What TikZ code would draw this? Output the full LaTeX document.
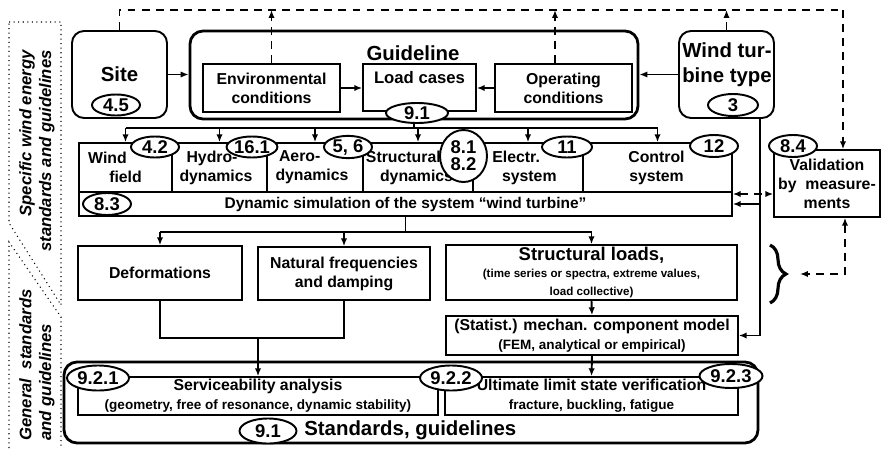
\documentclass[tikz,border=0pt]{standalone}
\usepackage{fontspec}
\setmainfont{Liberation Sans}
\usetikzlibrary{shapes.geometric,arrows.meta,calc,decorations.pathreplacing}
\newcommand{\bsize}[2]{\fontsize{#1}{#2}\selectfont\bfseries}

\begin{document}
\begin{tikzpicture}[x=0.2mm,y=-0.2mm,>={Latex[length=4.5pt,width=3.6pt]},
	box/.style={draw,line width=0.9pt,inner sep=0pt,align=center,font=\bsize{9}{10.8}},
	rbox/.style={draw,line width=1.1pt,rounded corners=2.4mm},
	bigbox/.style={draw,line width=1.6pt,rounded corners=2.6mm},
	txt/.style={inner sep=0pt,align=center,font=\bsize{9}{10.8}},
	big/.style={inner sep=0pt,align=center,font=\bsize{11.6}{14}},
	num/.style={ellipse,draw,fill=white,line width=1.1pt,inner sep=0pt,align=center,
		minimum width=9.6mm,minimum height=4.2mm,font=\bsize{10.5}{9.6}},
	wire/.style={line width=1.1pt},
	arr/.style={wire,->},
	fb/.style={wire,dash pattern=on 4.5pt off 3.5pt},
	side/.style={draw,dotted,line width=0.6pt},
	sidetxt/.style={rotate=90,inner sep=0pt,font=\fontsize{9.5}{11.3}\selectfont\bfseries\itshape}]
	\path[use as bounding box,fill=white] (0,0) rectangle (883,448);

	\draw[side] (9,22) -- (61,22) -- (61,305) -- (9,223) -- cycle;
	\draw[side] (9,448) -- (9,242) -- (61,317) -- (61,448);
	\node[sidetxt,align=right] (spec) at (37,151) {Specific wind energy\\standards and guidelines};
	\node[sidetxt,anchor=west,align=left] (gen) at (37,441) {General~~standards\\and guidelines};

	\node[rbox,big,minimum width=19mm,minimum height=17.4mm] (site) at (119.5,74.5) {Site};
	\node[bigbox,minimum width=89.6mm,minimum height=17.6mm] (guide) at (414,75) {};
	\node[big] (guidetxt) at (413,53) {Guideline};
	\node[box,minimum width=27.4mm,minimum height=9.6mm] (env) at (271.5,88) {Environmental\\conditions};
	\node[box,minimum width=22.6mm,minimum height=9.4mm] (load) at (419.5,87.5) {};
	\node[txt,font=\bsize{9.5}{11}] (loadtxt) at (419.5,78) {Load cases};
	\node[box,minimum width=27.4mm,minimum height=9.6mm] (op) at (563.5,88) {Operating\\conditions};
	\node[rbox,minimum width=19mm,minimum height=17.4mm] (turb) at (726.5,74.5) {};
	\node[big] (turbtxt) at (727,64.5) {Wind tur-\\bine type};

	\foreach \n/\x/\w in {wind/125.5/18.6,hydro/219.5/19,aero/315/19.2,struc/418/22,elec/528/22,ctrl/657.5/29.8}
		\node[box,minimum width=\w mm,minimum height=9.8mm] (\n) at (\x,167.5) {};
	\node[txt,align=left] (windtxt) at (115,167.5) {Wind\\\hspace*{12pt}field};
	\node[txt,align=left] (hydrotxt) at (216,167.5) {\hspace*{4pt}Hydro-\\dynamics};
	\node[txt,align=left] (aerotxt) at (312,167.5) {\hspace*{2pt}Aero-\\dynamics};
	\node[txt,align=left] (structxt) at (409.5,167.5) {Structural\\\hspace*{8pt}dynamics};
	\node[txt,align=left] (electxt) at (524.5,167.5) {Electr.\\\hspace*{5.5pt}system};
	\node[txt] (ctrltxt) at (656.5,167.5) {Control\\system};
	\node[box,font=\bsize{8.8}{10},minimum width=130.6mm,minimum height=4.8mm] (dyn) at (405.5,204) {Dynamic simulation of the system ``wind turbine''};
	\node[box,minimum width=21.2mm,minimum height=13.4mm] (val) at (827,183.5) {Validation\\by~~measure-\\ments};

	\node[box,minimum width=32.8mm,minimum height=10.8mm] (deform) at (160,273) {Deformations};
	\node[box,minimum width=34.4mm,minimum height=10.6mm] (natural) at (344,273.5) {Natural frequencies\\and damping};
	\node[box,font=\bsize{10.5}{10},minimum width=58.2mm,minimum height=11mm] (loads) at (591.5,272.5)
		{Structural loads,\\\fontsize{6.6}{9.5}\selectfont(time series or spectra, extreme values,\\\fontsize{6.6}{9}\selectfont load collective)};
	\node[box,minimum width=58.4mm,minimum height=7.8mm] (comp) at (592,335.5) {(Statist.) mechan. component model\\\fontsize{7.7}{10}\selectfont(FEM, analytical or empirical)};

	\node[bigbox,minimum width=138.8mm,minimum height=16.2mm] (std) at (411,402.5) {};
	\node[box,minimum width=72mm,minimum height=7.6mm] (service) at (258,396) {Serviceability analysis\\\fontsize{7.7}{9.5}\selectfont(geometry, free of resonance, dynamic stability)};
	\node[box,minimum width=58.6mm,minimum height=7.6mm] (ultimate) at (591.5,396) {Ultimate limit state verification\\\fontsize{7.7}{9.5}\selectfont fracture, buckling, fatigue};
	\node[big,anchor=west] (stdtxt) at (304,430) {Standards, guidelines};

	\coordinate (fbcorner) at (843,10);
	\draw[fb] (site.north) |- (fbcorner);
	\draw[fb,->] (fbcorner) -- (fbcorner |- val.north);
	\draw[fb,->] (env.north) -- (env.north |- fbcorner);
	\draw[fb,->] ([xshift=-1.7mm]op.north) -- ([xshift=-1.7mm]op.north |- fbcorner);
	\draw[fb,->] (turb.north) -- (turb.north |- fbcorner);

	\draw[arr] (site.east) -- (site.east -| guide.west);
	\draw[arr] (turb.west) -- (turb.west -| guide.east);
	\draw[arr] (env.east) -- (env.east -| load.west);
	\draw[arr] (op.west) -- (op.west -| load.east);

	\coordinate (bus) at (414,128);
	\draw[wire] (guide.south) -- (bus);
	\draw[wire] (wind.north |- bus) -- (ctrl.north |- bus);
	\foreach \n in {wind,hydro,aero,struc,elec,ctrl}
		\draw[arr] (\n.north |- bus) -- (\n.north);

	\draw[arr] ([xshift=6.7mm]turb.south) |- (comp.east);
	\draw[arr] ([xshift=6.7mm]turb.south |- dyn.east) -- (dyn.east);
	\draw[fb,<->] ([yshift=2mm]dyn.east) -- ([yshift=2mm]dyn.east -| val.west);

	\coordinate (bus2) at (405.5,232);
	\draw[wire] (dyn.south) -- (bus2);
	\draw[wire] (deform.north |- bus2) -- (loads.north |- bus2);
	\foreach \n in {deform,natural,loads}
		\draw[arr] (\n.north |- bus2) -- (\n.north);

	\coordinate (merge) at (258,338);
	\draw[wire] (deform.south) |- (merge) -| (natural.south);
	\draw[arr] (merge) -- (service.north);
	\draw[arr] (loads.south) -- (comp.north);
	\draw[arr] (comp.south) -- (ultimate.north);

	\draw[line width=1.8pt,decorate,decoration={brace,amplitude=3.2mm}] (770,245) -- (770,303);
	\coordinate (bracetip) at (800,274);
	\draw[fb,<->] ([xshift=3.6mm]val.south) |- (bracetip);

	\node[num] (n45) at (116,105) {4.5};
	\node[num,minimum width=12.4mm,minimum height=4mm] (n91a) at (417,113) {9.1};
	\node[num,minimum width=10mm,minimum height=4.4mm] (n3) at (733,105) {3};
	\node[num] (n42) at (155,147) {4.2};
	\node[num] (n161) at (252,147) {16.1};
	\node[num] (n56) at (348,147) {5, 6};
	\node[num,minimum width=9.4mm,minimum height=10.4mm] (n8182) at (463.5,156) {8.1\\8.2};
	\node[num,minimum width=10mm] (n11) at (567,147) {11};
	\node[num,minimum height=4.4mm] (n12) at (714,146) {12};
	\node[num,minimum height=4.4mm] (n84) at (793,146) {8.4};
	\node[num,minimum height=4.4mm] (n83) at (107,204) {8.3};
	\node[num,minimum width=12.4mm,minimum height=5mm] (n921) at (98,378) {9.2.1};
	\node[num,minimum width=12.4mm,minimum height=5mm] (n922) at (451,378) {9.2.2};
	\node[num,minimum width=12.6mm,minimum height=4.8mm] (n923) at (731,376) {9.2.3};
	\node[num,minimum width=11.4mm,minimum height=5mm] (n91b) at (268,431) {9.1};
\end{tikzpicture}
\end{document}
